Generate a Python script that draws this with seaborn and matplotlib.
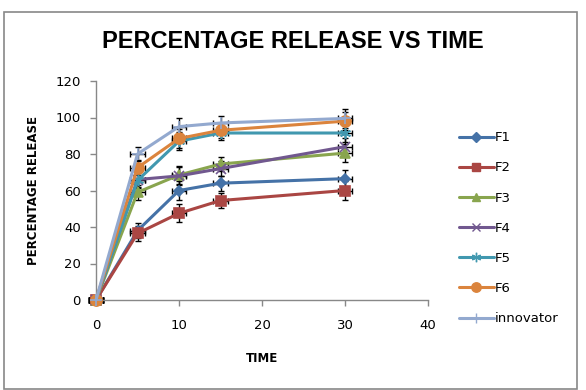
import matplotlib
matplotlib.use("Agg")
import matplotlib.pyplot as plt
import seaborn as sns
import pandas as pd
from matplotlib.patches import Rectangle
from matplotlib.lines import Line2D

time = [0, 5, 10, 15, 30]
series_names = ["F1", "F2", "F3", "F4", "F5", "F6", "innovator"]
f1 = [0, 38, 60, 64, 66.5]
f2 = [0, 36.5, 47.5, 54.5, 60]
f3 = [0, 59, 68.5, 74.5, 80.5]
f4 = [0, 66, 68, 72, 84]
f5 = [0, 65.5, 87, 91.5, 91.5]
f6 = [0, 72.5, 88.5, 93, 98]
innovator = [0, 80, 95, 97, 99.5]
yerr = [0, 4, 5, 4, 5]
xerr = [0.9, 0.9, 0.9, 0.9, 0.9]

values = [f1, f2, f3, f4, f5, f6, innovator]
colors = ["#4572A7", "#AA4643", "#89A54E", "#71588F", "#4198AF", "#DB843D", "#93A9CF"]
markers = ["D", "s", "^", "x", (6, 2, 0), "o", "+"]
msizes = [5.5, 7.5, 7.5, 7, 8, 8, 9]

sns.set_style("white")
plt.rcParams["text.color"] = "black"
plt.rcParams["axes.labelcolor"] = "black"
plt.rcParams["xtick.color"] = "black"
plt.rcParams["ytick.color"] = "black"
fig = plt.figure(figsize=(5.86, 3.9), dpi=100)
ax = fig.add_axes([96 / 586, 1 - 300 / 390, (428 - 96) / 586, (300 - 81) / 390])

for v in values:
    ax.errorbar(time, v, yerr=yerr, xerr=xerr, fmt="none", ecolor="black",
                elinewidth=1.0, capsize=2.5, capthick=1.0, zorder=2, clip_on=False)

for n, v, c, m, ms in zip(series_names, values, colors, markers, msizes):
    d = pd.DataFrame({"TIME": time, "value": v})
    sns.lineplot(data=d, x="TIME", y="value", color=c, marker=m, markersize=ms,
                 markeredgecolor=c, markerfacecolor=c, markeredgewidth=1.2,
                 linewidth=2.2, ax=ax, zorder=3, clip_on=False)

ax.set_xlim(0, 40)
ax.set_ylim(0, 120)
ax.set_xticks([0, 10, 20, 30, 40])
ax.set_yticks(range(0, 121, 20))
ax.tick_params(axis="both", direction="out", length=4, width=1, color="#888888",
               labelcolor="black", labelsize=9.5, left=True, bottom=True)
ax.tick_params(axis="x", pad=10)
ax.tick_params(axis="y", pad=7)
for s in ["top", "right"]:
    ax.spines[s].set_visible(False)
for s in ["left", "bottom"]:
    ax.spines[s].set_color("#888888")
    ax.spines[s].set_linewidth(1)
ax.set_xlabel("TIME", fontsize=8.5, fontweight="bold", labelpad=14, color="black")
ax.set_ylabel("PERCENTAGE RELEASE", fontsize=8.5, fontweight="bold", labelpad=11, color="black")

fig.text(0.5, 1 - 42 / 390, "PERCENTAGE RELEASE VS TIME", ha="center", va="center",
         fontsize=17, fontweight="bold", family="Liberation Sans", color="black")

handles = [Line2D([0], [0], color=c, marker=m, markersize=ms * 0.85, lw=2.2,
                  markerfacecolor=c, markeredgecolor=c)
           for c, m, ms in zip(colors, markers, msizes)]
leg = fig.legend(handles, series_names, loc="upper left",
                 bbox_to_anchor=(454 / 586, 1 - 126 / 390),
                 frameon=False, fontsize=9.5, handlelength=2.6, labelspacing=1.3,
                 borderaxespad=0, handletextpad=0.1)
for t in leg.get_texts():
    t.set_color("black")

fig.patches.append(Rectangle((3.5 / 586, 1.5 / 390), 573.5 / 586, 376.5 / 390, transform=fig.transFigure,
                             fill=False, edgecolor="#888888", linewidth=1.2))
fig.savefig("out.png", dpi=100)
